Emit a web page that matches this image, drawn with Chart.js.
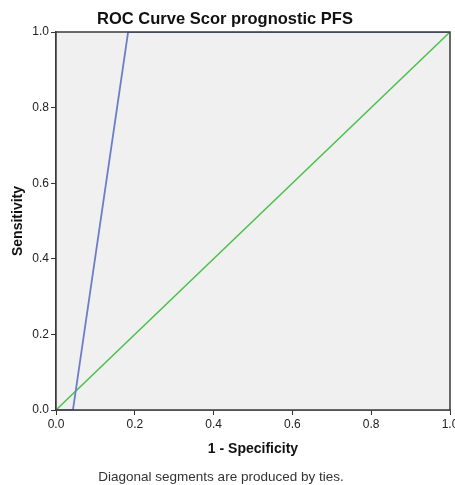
<!DOCTYPE html>
<html>
<head>
<meta charset="utf-8">
<script src="https://cdn.jsdelivr.net/npm/chart.js@4"></script>
<style>
  html, body { margin: 0; padding: 0; background: #fff; }
  #wrap { width: 455px; height: 485px; }
</style>
</head>
<body>
<div id="wrap"><canvas id="roc"></canvas></div>
<script>
const fpr = [0, 0.043, 0.183, 1];
const tpr = [0, 0, 1, 1];
const refX = [0, 1];
const refY = [0, 1];
const tickValues = [0, 0.2, 0.4, 0.6, 0.8, 1.0];

const FONT = "'Liberation Sans', Arial, sans-serif";

// grey plot area + frame on all four sides
const plotFrame = {
  id: 'plotFrame',
  beforeDatasetsDraw(chart) {
    const { ctx, chartArea: a } = chart;
    ctx.save();
    ctx.fillStyle = '#f0f0f0';
    ctx.fillRect(a.left, a.top, a.right - a.left, a.bottom - a.top);
    ctx.restore();
  },
  afterDatasetsDraw(chart) {
    const { ctx, chartArea: a } = chart;
    ctx.save();
    ctx.strokeStyle = '#3a3a3a';
    ctx.lineWidth = 1.5;
    ctx.strokeRect(a.left, a.top, a.right - a.left, a.bottom - a.top);
    ctx.restore();
  }
};

// chart heading and footnote
const captions = {
  id: 'captions',
  afterDraw(chart) {
    const ctx = chart.ctx;
    ctx.save();
    ctx.fillStyle = '#111';
    ctx.textAlign = 'center';
    ctx.textBaseline = 'middle';
    ctx.font = 'bold 16.5px ' + FONT;
    ctx.fillText('ROC Curve Scor prognostic PFS', 225, 19);
    ctx.font = '13.5px ' + FONT;
    ctx.fillStyle = '#333';
    ctx.fillText('Diagonal segments are produced by ties.', 221, 477);
    ctx.restore();
  }
};

function axisTicks() {
  return {
    color: '#222',
    font: { family: FONT, size: 12 },
    padding: 2,
    callback: v => v.toFixed(1)
  };
}

new Chart(document.getElementById('roc'), {
  type: 'scatter',
  data: {
    datasets: [
      {
        label: 'Scor prognostic',
        data: fpr.map((x, i) => ({ x: x, y: tpr[i] })),
        showLine: true,
        borderColor: '#6b7fc8',
        borderWidth: 1.8,
        pointRadius: 0,
        fill: false
      },
      {
        label: 'Reference Line',
        data: refX.map((x, i) => ({ x: x, y: refY[i] })),
        showLine: true,
        borderColor: '#4cc04c',
        borderWidth: 1.5,
        pointRadius: 0,
        fill: false
      }
    ]
  },
  options: {
    responsive: true,
    maintainAspectRatio: false,
    animation: false,
    layout: { padding: { top: 32, right: 5, bottom: 27, left: 0 } },
    plugins: {
      legend: { display: false },
      tooltip: { enabled: false }
    },
    scales: {
      x: {
        type: 'linear',
        min: 0,
        max: 1,
        afterBuildTicks: s => { s.ticks = tickValues.map(v => ({ value: v })); },
        // let the last tick label run past the canvas edge
        afterFit: s => { s.height = 48; s.paddingRight = 0; },
        ticks: axisTicks(),
        grid: { drawOnChartArea: false, tickLength: 5, tickColor: '#333', color: '#333' },
        border: { color: '#3a3a3a', width: 1.5 },
        title: {
          display: true,
          text: '1 - Specificity',
          color: '#111',
          font: { family: FONT, size: 14, weight: 'bold' },
          padding: { top: 0, bottom: 0 }
        }
      },
      y: {
        type: 'linear',
        min: 0,
        max: 1,
        afterBuildTicks: s => { s.ticks = tickValues.map(v => ({ value: v })); },
        afterFit: s => { s.width = 56; },
        ticks: axisTicks(),
        grid: { drawOnChartArea: false, tickLength: 5, tickColor: '#333', color: '#333' },
        border: { color: '#3a3a3a', width: 1.5 },
        title: {
          display: true,
          text: 'Sensitivity',
          color: '#111',
          font: { family: FONT, size: 14, weight: 'bold' },
          padding: { top: 10, bottom: 0 }
        }
      }
    }
  },
  plugins: [plotFrame, captions]
});
</script>
</body>
</html>
